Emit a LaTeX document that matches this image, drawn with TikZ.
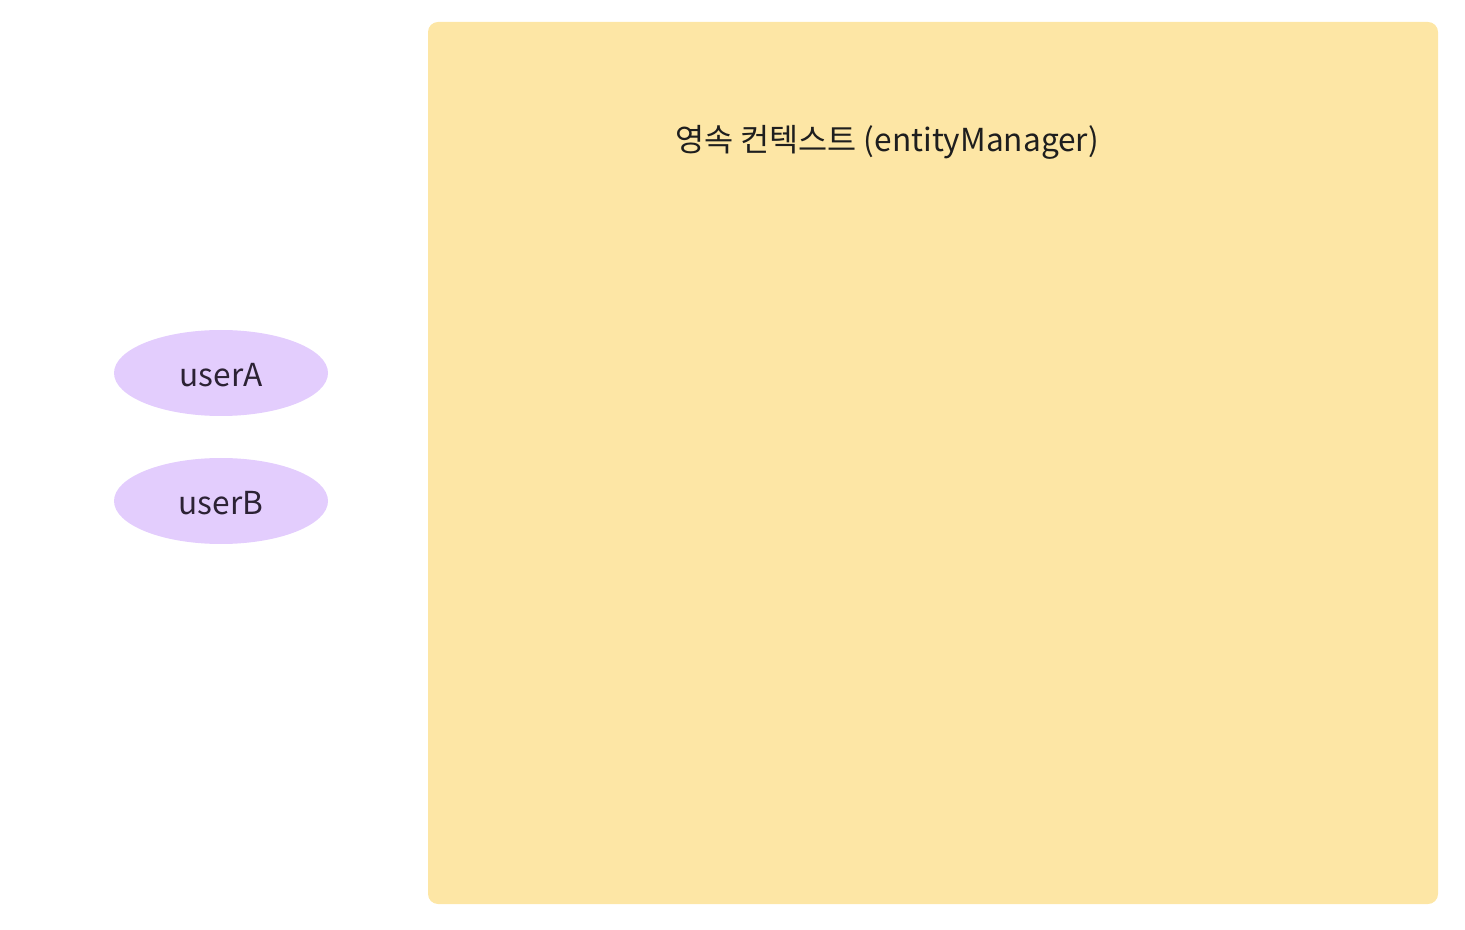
\documentclass[tikz,border=0pt]{standalone}
\usepackage{fontspec}
\setmainfont{Noto Sans CJK KR}
\definecolor{CtxYellow}{HTML}{FDE6A5}
\definecolor{UserPurple}{HTML}{E3CDFD}
\definecolor{TxtDark}{HTML}{1E1E1E}
\definecolor{TxtUser}{HTML}{2C2234}
\usetikzlibrary{shapes.geometric}

\begin{document}
\begin{tikzpicture}[font=\fontsize{18}{21}\selectfont, ctx/.style={fill=CtxYellow, rounded corners=0.2cm, minimum width=20.2cm, minimum height=17.64cm, inner sep=0pt}, usr/.style={ellipse, fill=UserPurple, minimum width=4.28cm, minimum height=1.72cm, inner sep=0pt, text=TxtUser, text height=0.56cm, text depth=0cm}]
\useasboundingbox (0,0) rectangle (29.3,-18.6);
\node[ctx] (pc) at (18.66,-9.26) {};
\node[text=TxtDark] (pctitle) at (17.74,-2.84) {영속 컨텍스트 (entityManager)};
\node[usr] (uA) at (4.42,-7.46) {userA};
\node[usr] (uB) at (4.42,-10.02) {userB};
\end{tikzpicture}
\end{document}
